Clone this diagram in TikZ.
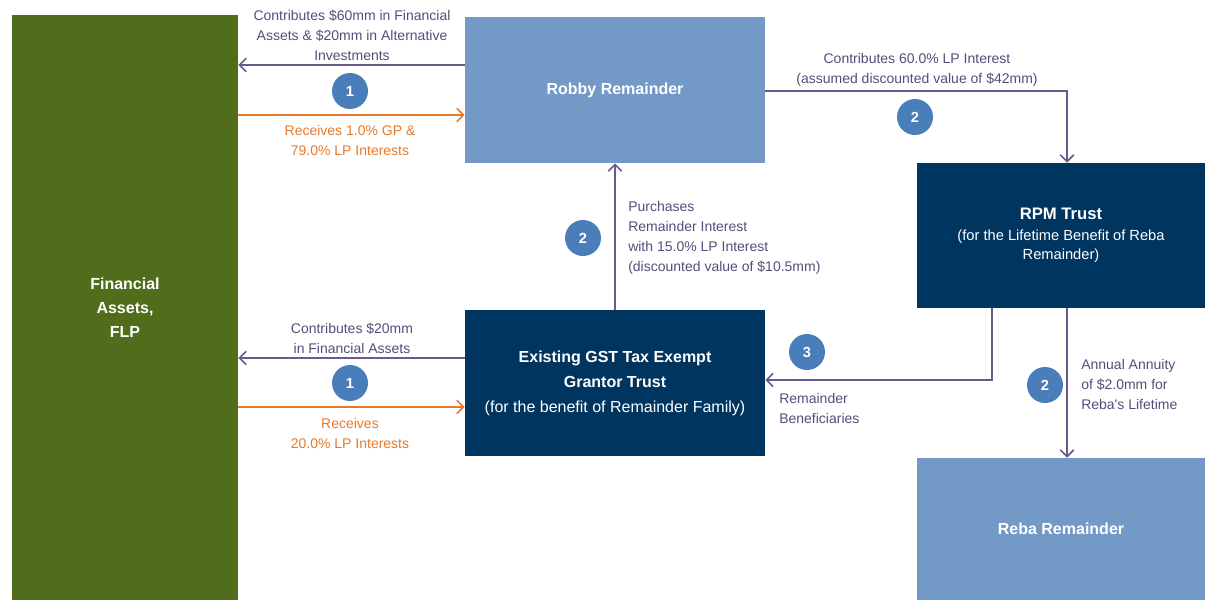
\documentclass[tikz,border=0pt]{standalone}
\usepackage{fontspec}
\setmainfont{Liberation Sans}
\newfontfamily\nolig{Liberation Sans}
\usetikzlibrary{arrows.meta}
\definecolor{flpgreen}{HTML}{4F6D1A}
\definecolor{lightbox}{HTML}{7399C6}
\definecolor{navybox}{HTML}{003560}
\definecolor{purp}{HTML}{6B5A8C}
\definecolor{purptext}{HTML}{5A4A7A}
\definecolor{orng}{HTML}{E8792A}
\definecolor{circblue}{HTML}{4A7EBB}
\tikzset{
  box/.style={inner sep=0pt, text=white, align=center},
  parr/.style={draw=purp, line width=1.3pt, -{Straight Barb[length=5pt,width=10pt]}},
  oarr/.style={draw=orng, line width=1.3pt, -{Straight Barb[length=5pt,width=10pt]}},
  num/.style={circle, fill=circblue, text=white, minimum size=27pt, inner sep=0pt, font=\fontsize{11}{12}\selectfont\bfseries},
  plabel/.style={text=purptext, font=\fontsize{10.5}{15}\selectfont, inner sep=0pt},
  olabel/.style={text=orng, font=\fontsize{10.5}{15}\selectfont, inner sep=0pt},
}
\begin{document}
\begin{tikzpicture}[x=0.75pt,y=-0.75pt]
\useasboundingbox (0,0) rectangle (1205,600);
% boxes
\node[box, fill=flpgreen, minimum width=169.5pt, minimum height=438.75pt, font=\fontsize{12}{18}\selectfont\bfseries] (flp) at (125,307.5) {Financial\\Assets,\\FLP};
\node[box, fill=lightbox, minimum width=225pt, minimum height=109.5pt, font=\fontsize{12}{18}\selectfont\bfseries] (robby) at (615,90) {Robby Remainder};
\node[box, fill=navybox, minimum width=216pt, minimum height=108.75pt, font=\fontsize{11}{14.5}\selectfont] (rpm) at (1061,235.5) {{\fontsize{12.5}{14}\selectfont\bfseries RPM Trust}\\[1pt](for the Lifetime Benefit of Reba\\Remainder)};
\node[box, fill=navybox, minimum width=225pt, minimum height=109.5pt, font=\fontsize{12}{18.75}\selectfont] (gst) at (615,383) {\textbf{Existing GST Tax Exempt}\\\textbf{Grantor Trust}\\(for the benefit of Remainder Family)};
\node[box, fill=lightbox, minimum width=216pt, minimum height=106.5pt, font=\fontsize{12}{18}\selectfont\bfseries] (reba) at (1061,529) {Reba Remainder};

% Robby <-> FLP
\draw[parr] (robby.west |- 0,65) -- (flp.east |- 0,65);
\draw[oarr] (flp.east |- 0,115) -- (robby.west |- 0,115);
\node[plabel, align=center] (l1) at (352,35) {Contributes \$60mm in Financial\\Assets \& \$20mm in Alternative\\Investments};
\node[olabel, align=center] (l2) at (350,140) {Receives 1.0\% GP \&\\79.0\% LP Interests};
\node[num] (n1a) at (350,91) {1};

% GST <-> FLP
\draw[parr] (gst.west |- 0,358) -- (flp.east |- 0,358);
\draw[oarr] (flp.east |- 0,407) -- (gst.west |- 0,407);
\node[plabel, align=center] (l3) at (352,338.5) {Contributes \$20mm\\in Financial Assets};
\node[olabel, align=center] (l4) at (350,433) {Receives\\20.0\% LP Interests};
\node[num] (n1b) at (350,383) {1};

% Robby -> RPM
\coordinate (c1) at (1067,91);
\draw[parr] (robby.east |- c1) -- (c1) -- (c1 |- rpm.north);
\node[plabel, align=center] (l5) at (917,70) {Contributes 60.0\% LP Interest\\(assumed discounted value of \$42mm)};
\node[num] (n2a) at (915,117) {2};

% GST -> Robby
\draw[parr] (gst.north -| 615,0) -- (robby.south -| 615,0);
\node[num] (n2b) at (583,238) {2};
\node[plabel, align=left, anchor=west] (l6) at (628,237.5) {Purchases\\Remainder Interest\\with 15.0\% LP Interest\\(discounted value of \$10.5mm)};

% RPM -> GST (remainder beneficiaries)
\coordinate (c2) at (992,380);
\draw[parr] (rpm.south -| c2) -- (c2) -- (gst.east |- c2);
\node[num] (n3) at (807,352) {3};
\node[plabel, align=left, anchor=west] (l7) at (779,408) {Remainder\\Beneficiaries};

% RPM -> Reba
\draw[parr] (rpm.south -| 1067,0) -- (reba.north -| 1067,0);
\node[num] (n2c) at (1045,385) {2};
\node[plabel, align=left, anchor=west] (l8) at (1081,384.5) {Annual Annuity\\of \$2.0mm for\\Reba{\nolig'}s Lifetime};
\end{tikzpicture}
\end{document}
